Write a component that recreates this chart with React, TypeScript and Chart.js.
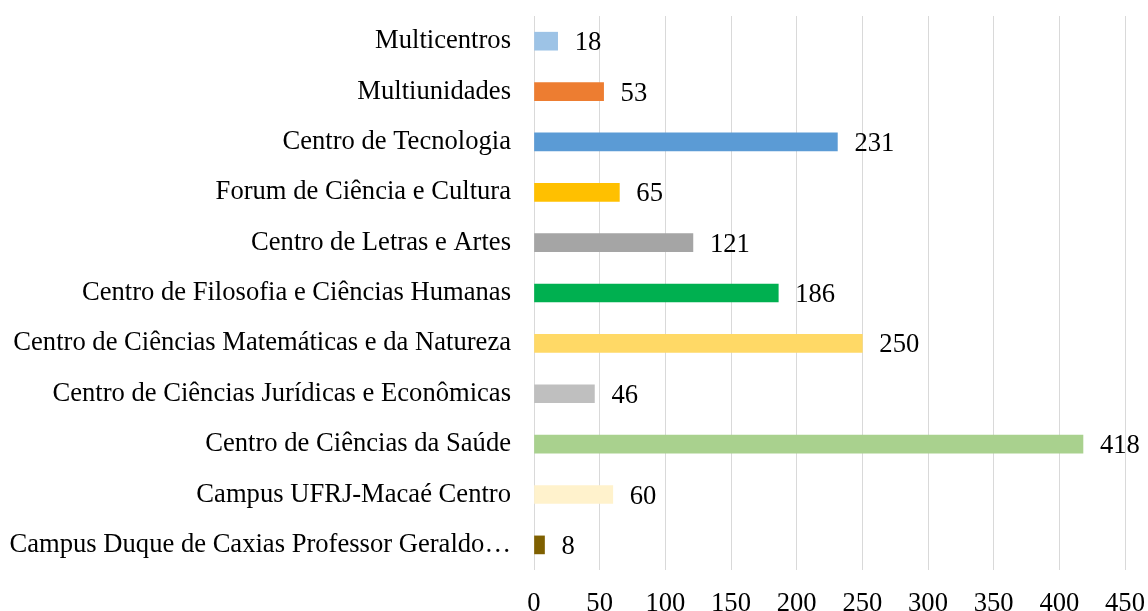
import React, { useEffect, useRef } from "react";
import { Chart, registerables } from "chart.js";

Chart.register(...registerables);

const categories = [
  "Multicentros",
  "Multiunidades",
  "Centro de Tecnologia",
  "Forum de Ciência e Cultura",
  "Centro de Letras e Artes",
  "Centro de Filosofia e Ciências Humanas",
  "Centro de Ciências Matemáticas e da Natureza",
  "Centro de Ciências Jurídicas e Econômicas",
  "Centro de Ciências da Saúde",
  "Campus UFRJ-Macaé Centro",
  "Campus Duque de Caxias Professor Geraldo…",
];

const values = [18, 53, 231, 65, 121, 186, 250, 46, 418, 60, 8];

const barColors = [
  "#9DC3E6",
  "#ED7D31",
  "#5B9BD5",
  "#FFC000",
  "#A5A5A5",
  "#00B050",
  "#FFD966",
  "#BFBFBF",
  "#A9D18E",
  "#FFF2CC",
  "#7F6000",
];

const xMin = 0;
const xMax = 450;
const xStep = 50;

const FONT = "'Liberation Serif', 'Times New Roman', serif";
const FONT_SIZE = 26.6;

const valueLabels = {
  id: "valueLabels",
  afterDatasetsDraw(chart: any) {
    const ctx = chart.ctx;
    const meta = chart.getDatasetMeta(0);
    ctx.save();
    ctx.font = `${FONT_SIZE}px ${FONT}`;
    ctx.fillStyle = "#000";
    ctx.textAlign = "left";
    ctx.textBaseline = "middle";
    meta.data.forEach((bar: any, i: number) => {
      ctx.fillText(String(values[i]), bar.x + 17, bar.y + 2);
    });
    ctx.restore();
  },
};

export default function App() {
  const ref = useRef<HTMLCanvasElement | null>(null);

  useEffect(() => {
    document.body.style.margin = "0";
    const canvas = ref.current!;
    const chart = new Chart(canvas, {
      type: "bar",
      data: {
        labels: categories,
        datasets: [
          {
            data: values,
            backgroundColor: barColors,
            borderWidth: 0,
            barThickness: 18,
          },
        ],
      },
      options: {
        indexAxis: "y",
        responsive: false,
        animation: false,
        layout: { padding: { top: 16, right: 23, left: 0, bottom: 0 } },
        plugins: {
          legend: { display: false },
          tooltip: { enabled: false },
        },
        scales: {
          x: {
            min: xMin,
            max: xMax,
            ticks: {
              stepSize: xStep,
              color: "#000",
              font: { family: FONT, size: FONT_SIZE },
              padding: 18,
              maxRotation: 0,
            },
            grid: { color: "#D9D9D9", lineWidth: 1, drawTicks: false },
            border: { display: false },
            afterFit(scale: any) {
              scale.paddingLeft = 0;
              scale.paddingRight = 0;
            },
          },
          y: {
            ticks: {
              color: "#000",
              font: { family: FONT, size: FONT_SIZE },
              padding: 23,
              autoSkip: false,
            },
            grid: { display: false, drawTicks: false },
            border: { display: false },
            afterFit(scale: any) {
              scale.width = 534;
              scale.paddingTop = 0;
              scale.paddingBottom = 0;
            },
          },
        },
      },
      plugins: [valueLabels],
    });
    return () => chart.destroy();
  }, []);

  return (
    <div style={{ width: 1148, height: 611, overflow: "hidden", position: "relative" }}>
      <canvas ref={ref} width={1148} height={638} style={{ display: "block" }} />
    </div>
  );
}
